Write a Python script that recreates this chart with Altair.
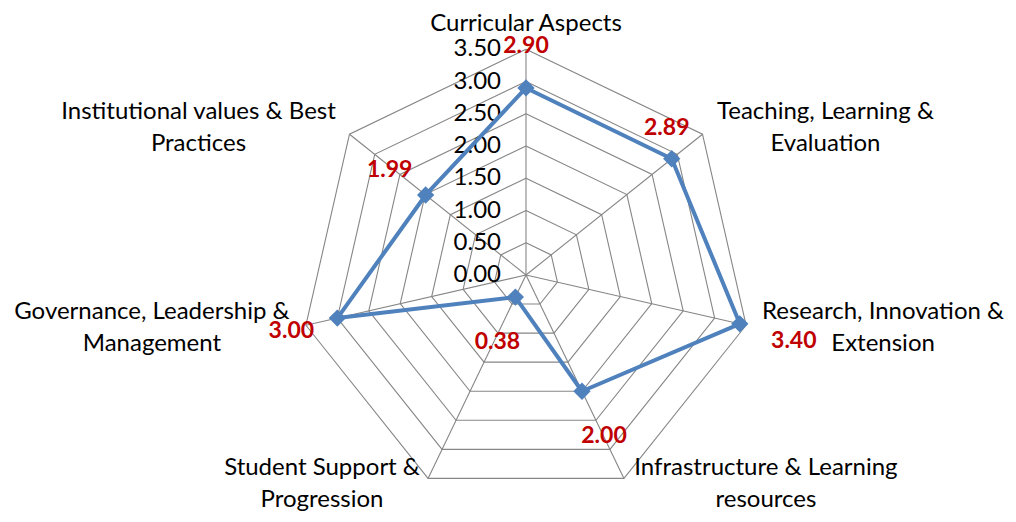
import math
import pandas as pd
import altair as alt

categories = [
    "Curricular Aspects",
    "Teaching, Learning &\nEvaluation",
    "Research, Innovation &\nExtension",
    "Infrastructure & Learning\nresources",
    "Student Support &\nProgression",
    "Governance, Leadership &\nManagement",
    "Institutional values & Best\nPractices",
]
values = [2.90, 2.89, 3.40, 2.00, 0.38, 3.00, 1.99]
ticks = [0.0, 0.5, 1.0, 1.5, 2.0, 2.5, 3.0, 3.5]
tick_labels = ["0.00", "0.50", "1.00", "1.50", "2.00", "2.50", "3.00", "3.50"]

# presentation parameters (pixel offsets of labels from their anchors)
PX = 64.5  # pixels per data unit
value_label_offsets = [(0, -42), (-5, -31), (54, 17), (22, 45), (-18, 45), (-46, 13), (-36, -25)]
cat_label_offsets = [(0, -25), (123, -22), (137, -13), (142, -10), (-106, -10), (-154, -13), (-151, -22)]

n = len(categories)
rmax = ticks[-1]


def polar(r, k):
    a = 2 * math.pi * k / n
    return r * math.sin(a), r * math.cos(a)


# grid rings
ring_rows = []
for ti, t in enumerate(ticks[1:]):
    for k in range(n + 1):
        x, y = polar(t, k % n)
        ring_rows.append({"ring": ti, "k": k, "x": x, "y": y})
rings = pd.DataFrame(ring_rows)

# spokes
spoke_rows = []
for k in range(n):
    x, y = polar(rmax, k)
    spoke_rows.append({"k": k, "x": 0.0, "y": 0.0, "x2": x, "y2": y})
spokes = pd.DataFrame(spoke_rows)

# series
ser_rows = []
for k in range(n + 1):
    v = values[k % n]
    x, y = polar(v, k % n)
    ser_rows.append({"k": k, "x": x, "y": y, "v": v})
series = pd.DataFrame(ser_rows)
pts = series[series.k < n].copy()
pts["label"] = [f"{v:.2f}" for v in values]
pts["lx"] = [pts.x.iloc[i] + value_label_offsets[i][0] / PX for i in range(n)]
pts["ly"] = [pts.y.iloc[i] - value_label_offsets[i][1] / PX for i in range(n)]

# tick labels on the top spoke
tl = pd.DataFrame({"t": ticks, "label": tick_labels})
tl["x"] = -25 / PX
tl["y"] = tl["t"]

# category labels
cl_rows = []
for k in range(n):
    x, y = polar(rmax, k)
    cl_rows.append({
        "cat": categories[k],
        "x": x + cat_label_offsets[k][0] / PX,
        "y": y - cat_label_offsets[k][1] / PX,
    })
cl = pd.DataFrame(cl_rows)

W, H = 1000, 506
cx, cy = 518, 267
xdom = [-cx / PX, (W - cx) / PX]
ydom = [-(H - cy) / PX, cy / PX]
xs = alt.Scale(domain=xdom, nice=False, zero=False)
ys = alt.Scale(domain=ydom, nice=False, zero=False)

GRID = "#868686"
BLUE = "#4F81BD"
RED = "#C00000"
FONT = "Lato"

ring_layer = alt.Chart(rings).mark_line(color=GRID, strokeWidth=1.1).encode(
    x=alt.X("x:Q", scale=xs, axis=None),
    y=alt.Y("y:Q", scale=ys, axis=None),
    detail="ring:N",
    order="k:Q",
)

spoke_layer = alt.Chart(spokes).mark_rule(color=GRID, strokeWidth=1.1).encode(
    x=alt.X("x:Q", scale=xs, axis=None),
    y=alt.Y("y:Q", scale=ys, axis=None),
    x2="x2:Q",
    y2="y2:Q",
)

tick_layer = alt.Chart(tl).mark_text(
    align="right", baseline="middle", font=FONT, fontSize=24, color="#000000"
).encode(
    x=alt.X("x:Q", scale=xs, axis=None),
    y=alt.Y("y:Q", scale=ys, axis=None),
    text="label:N",
)

line_layer = alt.Chart(series).mark_line(color=BLUE, strokeWidth=4, strokeJoin="round").encode(
    x=alt.X("x:Q", scale=xs, axis=None),
    y=alt.Y("y:Q", scale=ys, axis=None),
    order="k:Q",
)

pt_layer = alt.Chart(pts).mark_point(
    shape="diamond", filled=True, size=300, color=BLUE, opacity=1
).encode(
    x=alt.X("x:Q", scale=xs, axis=None),
    y=alt.Y("y:Q", scale=ys, axis=None),
)

val_layer = alt.Chart(pts).mark_text(
    align="center", baseline="middle", font=FONT, fontSize=23, fontWeight="bold", color=RED
).encode(
    x=alt.X("lx:Q", scale=xs, axis=None),
    y=alt.Y("ly:Q", scale=ys, axis=None),
    text="label:N",
)

cat_layer = alt.Chart(cl).mark_text(
    align="center", baseline="middle", font=FONT, fontSize=24, color="#000000",
    lineBreak="\n", lineHeight=32,
).encode(
    x=alt.X("x:Q", scale=xs, axis=None),
    y=alt.Y("y:Q", scale=ys, axis=None),
    text="cat:N",
)

chart = alt.layer(
    ring_layer, spoke_layer, tick_layer, line_layer, pt_layer, val_layer, cat_layer
).properties(
    width=W, height=H, padding=0, autosize="none", background="white"
).configure_view(stroke=None)

chart.save("out.html", embed_options={"renderer": "svg", "actions": False})
